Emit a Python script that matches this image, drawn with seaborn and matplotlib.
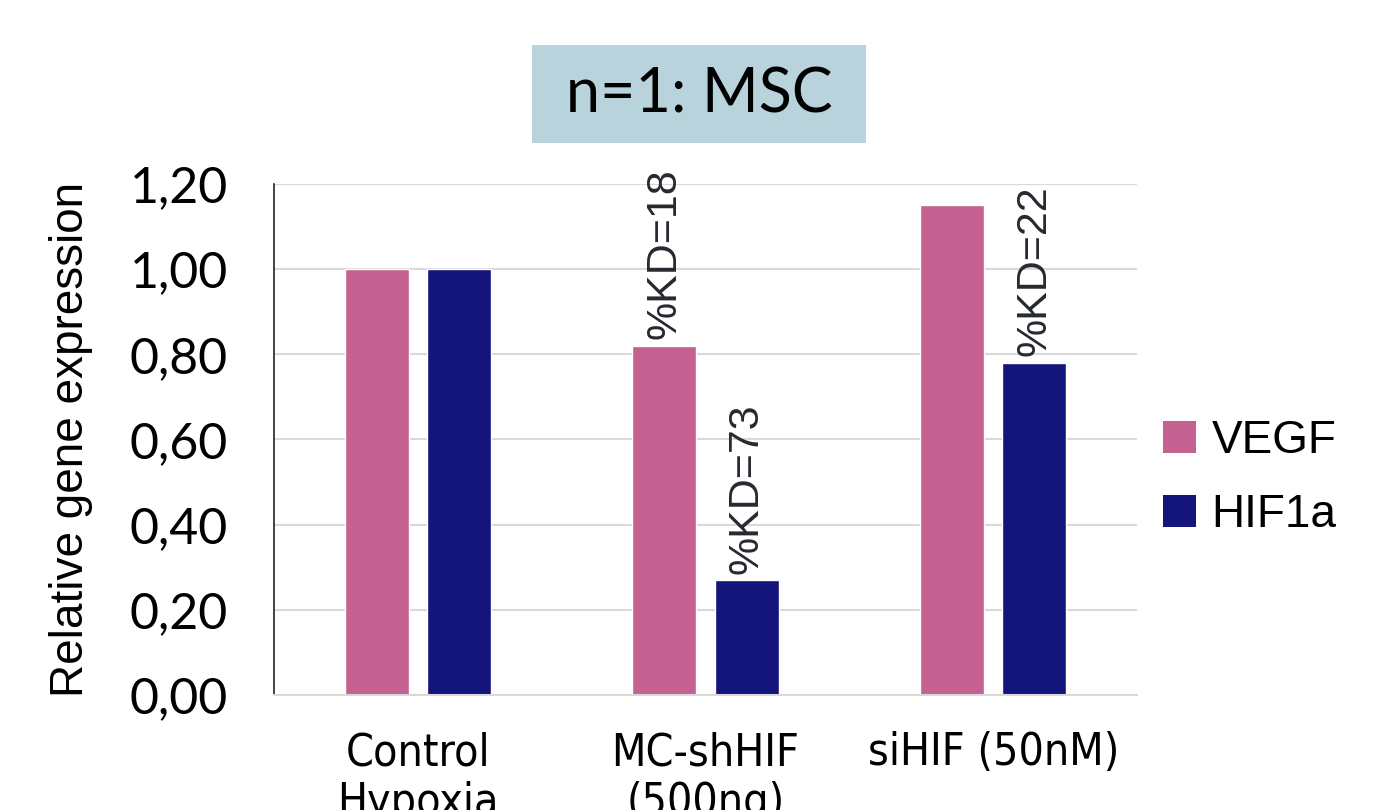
import pandas as pd
import seaborn as sns
import matplotlib.pyplot as plt
from matplotlib.patches import FancyBboxPatch, Patch

conditions = ['Control\nHypoxia', 'MC-shHIF\n(500ng)', 'siHIF (50nM)']
genes = ['VEGF', 'HIF1a']
vegf = [1.00, 0.82, 1.15]
hif1a = [1.00, 0.27, 0.78]
kd_labels = [(1, 'VEGF', '%KD=18'), (1, 'HIF1a', '%KD=73'), (2, 'HIF1a', '%KD=22')]
yticks = [0.0, 0.2, 0.4, 0.6, 0.8, 1.0, 1.2]
colors = {'VEGF': '#c46190', 'HIF1a': '#14157a'}

df = pd.DataFrame({
    'condition': conditions * 2,
    'gene': ['VEGF'] * 3 + ['HIF1a'] * 3,
    'value': vegf + hif1a,
})

sns.set_style('white')
plt.rcParams['font.family'] = ['Lato', 'DejaVu Sans']
plt.rcParams['text.color'] = 'black'
plt.rcParams['xtick.color'] = 'black'
plt.rcParams['ytick.color'] = 'black'

fig = plt.figure(figsize=(13.82, 8.10), dpi=100)
ax = fig.add_axes([0.198, 0.142, 0.625, 0.631])

sns.barplot(data=df, x='condition', y='value', hue='gene', hue_order=genes,
            order=conditions, palette=colors, width=0.57, gap=0.22,
            saturation=1, ax=ax, legend=False)

ax.set_ylim(0, 1.2)
ax.set_xlim(-0.5, 2.5)
ax.set_yticks(yticks)
ax.set_yticklabels([f'{t:.2f}'.replace('.', ',') for t in yticks], fontsize=36)
ax.yaxis.grid(True, color='#d9d9d9', linewidth=1.5)
ax.set_axisbelow(True)
for s in ['top', 'right']:
    ax.spines[s].set_visible(False)
ax.spines['left'].set_color('#222222')
ax.spines['left'].set_linewidth(1.2)
ax.spines['bottom'].set_color('#d9d9d9')
ax.spines['bottom'].set_linewidth(1.5)
ax.tick_params(axis='both', length=0)
ax.tick_params(axis='y', pad=33)
ax.tick_params(axis='x', pad=26)
for lbl in ax.get_xticklabels():
    lbl.set_fontsize(32)
    lbl.set_family(['DejaVu Sans', 'Lato'])
    lbl.set_fontstretch('condensed')
    lbl.set_linespacing(1.2)
ax.set_xlabel('')
ax.set_ylabel('Relative gene expression', fontsize=33, color='black',
              family=['Liberation Sans', 'DejaVu Sans'], labelpad=26)

# rotated knockdown labels above bars
n = len(conditions)
for ci, gene, txt in kd_labels:
    gi = genes.index(gene)
    bar = ax.patches[gi * n + ci]
    x = bar.get_x() + bar.get_width() / 2
    ax.text(x, bar.get_height() + 0.015, txt, rotation=90, ha='center', va='bottom',
            fontsize=31, color='#262a30', family=['Liberation Sans', 'DejaVu Sans'])

# legend
handles = [Patch(facecolor=colors[g], edgecolor='none') for g in genes]
fig.legend(handles, genes, loc='center left', bbox_to_anchor=(0.812, 0.41),
           frameon=False, handlelength=0.7, handleheight=0.7,
           handletextpad=0.35, labelspacing=0.65,
           prop={'family': ['Liberation Sans', 'DejaVu Sans'], 'size': 33})

# title box
box = FancyBboxPatch((532 / 1382, 1 - 143 / 810), 334 / 1382, 98 / 810,
                     boxstyle='square,pad=0', transform=fig.transFigure,
                     facecolor='#b9d3dc', edgecolor='none')
fig.patches.append(box)
fig.text(699 / 1382, 1 - 95 / 810, 'n=1: MSC', ha='center', va='center', fontsize=44,
         family=['Lato', 'DejaVu Sans'])

fig.savefig('out.png', dpi=100)
